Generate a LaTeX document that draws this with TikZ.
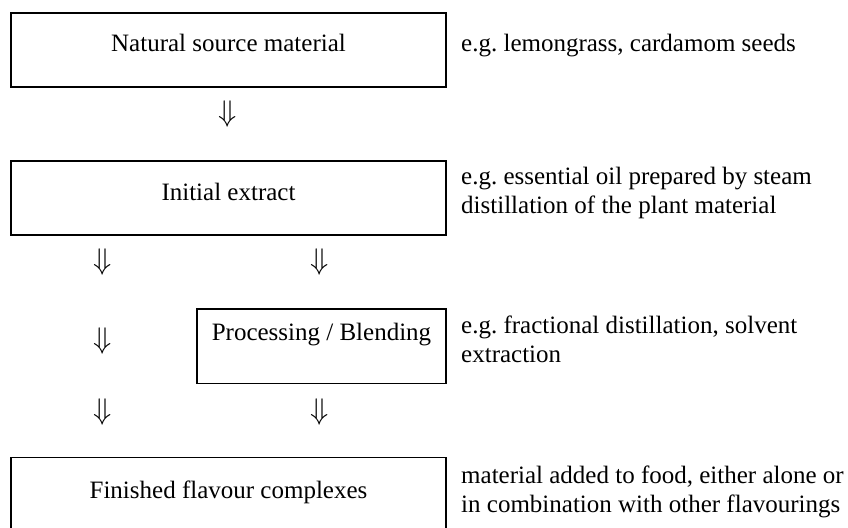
\documentclass[tikz,border=0pt]{standalone}
\usepackage{amsmath,amssymb}
\usepackage{fontspec}
\setmainfont{Liberation Serif}
\newcommand{\dnarrow}{\scalebox{1.2}{$\Downarrow$}}

\begin{document}
\begin{tikzpicture}[x=1pt, y=-1pt,
		every node/.style={font=\fontsize{25}{28.75}\selectfont},
		flowbox/.style={draw, line width=1.8pt, inner sep=0pt, anchor=base, minimum width=435pt, text height=39pt, text depth=35pt},
		note/.style={anchor=base west, align=left, inner sep=0pt},
		down/.style={inner sep=0pt}]
		\useasboundingbox (0,0) rectangle (848,527);
		% main column
		\node[flowbox] (src) at (228.5,52) {Natural source material};
		\node[flowbox] (ext) at (228.5,200) {Initial extract};
		\node[flowbox, minimum width=249pt, text height=31.5pt, text depth=43pt] (proc) at (321.5,340.5) {Processing / Blending};
		\node[flowbox, text height=40.5pt, text depth=35pt] (fin) at (228.5,498) {Finished flavour complexes};
		% arrows between the steps
		\node[down] (a1) at (228,114) {\dnarrow};
		\node[down] (a2l) at (103,262) {\dnarrow};
		\node[down] (a2r) at (320,262) {\dnarrow};
		\node[down] (a3l) at (103,341) {\dnarrow};
		\node[down] (a4l) at (103,412) {\dnarrow};
		\node[down] (a4r) at (320,412) {\dnarrow};
		% notes on the right (base = last line)
		\node[note] (srcnote) at (461,52) {e.g.\ lemongrass, cardamom seeds};
		\node[note] (extnote) at (461,213) {e.g.\ essential oil prepared by steam\\distillation of the plant material};
		\node[note] (procnote) at (461,362) {e.g.\ fractional distillation, solvent\\extraction};
		\node[note] (finnote) at (461,512) {material added to food, either alone or\\in combination with other flavourings};
	\end{tikzpicture}
\end{document}
